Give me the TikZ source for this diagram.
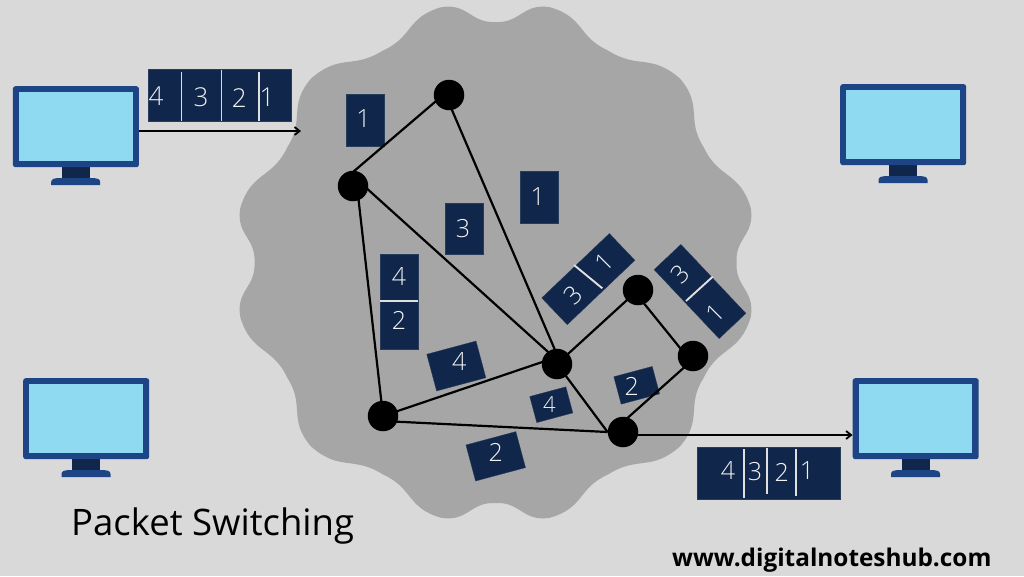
\documentclass[tikz,border=0pt]{standalone}
\usepackage{fontspec}
\setmainfont{Open Sans}
\newfontfamily\lightfont{Open Sans Light}
\usetikzlibrary{arrows.meta}
\definecolor{bgc}{HTML}{D9D9D9}
\definecolor{cloudc}{HTML}{A6A6A6}
\definecolor{navy}{HTML}{10264A}
\definecolor{frameb}{HTML}{1D4586}
\definecolor{screenb}{HTML}{8FDAF1}
\tikzset{
  pkt/.style={fill=navy,draw=navy!90!white,line width=0.3pt,inner sep=0,minimum width=#1},
  digit/.style={text=white!95!black,font=\lightfont\fontsize{25}{25}\selectfont,inner sep=0},
  sepline/.style={draw=white!88!black,line width=1.9pt},
  router/.style={circle,fill=black,minimum size=30.5pt,inner sep=0},
  link/.style={draw=black,line width=2.2pt},
  flow/.style={draw=black,line width=2.2pt,-{Straight Barb[length=5pt,width=8pt,line width=1.8pt]}}
}
\newcommand{\lobe}[4]{.. controls ({#1+0.5*(#3-#1)-90}:#2) and ({#3-0.5*(#3-#1)-90}:#4) .. ({#3-90}:#4)}
\newcommand{\monitor}[3]{%
  \begin{scope}[shift={(#1,#2)}]
    \fill[navy] (49,80) rectangle (77,93);
    \fill[frameb] (38.5,99) -- (38.5,96) to[out=90,in=180] (45,92) -- (81,92) to[out=0,in=90] (87.5,96) -- (87.5,99) -- cycle;
    \node[draw=none,fill=frameb,rounded corners=2.5pt,minimum width=126pt,minimum height=81pt,inner sep=0,anchor=north west] (#3) at (0,0) {};
    \fill[screenb] (6.3,5.5) rectangle (119.8,74.5);
  \end{scope}}
\begin{document}
\begin{tikzpicture}[x=1pt,y=-1pt]
\useasboundingbox (0,0) rectangle (1024,576);
\fill[bgc] (0,0) rectangle (1024,576);
\begin{scope}[shift={(495.5,262.5)}]
\fill[cloudc] ({0-90}:240.5)
 \lobe{0}{240.5}{12}{261} \lobe{12}{261}{28}{240} \lobe{28}{240}{45}{260.5} \lobe{45}{260.5}{61}{238} \lobe{61}{238}{78}{261} \lobe{78}{261}{90}{241}
 \lobe{90}{241}{102}{261} \lobe{102}{261}{119}{238} \lobe{119}{238}{135}{260.5} \lobe{135}{260.5}{152}{240} \lobe{152}{240}{168}{261} \lobe{168}{261}{180}{240.5}
 \lobe{180}{240.5}{192}{261} \lobe{192}{261}{208}{240} \lobe{208}{240}{225}{260.5} \lobe{225}{260.5}{241}{238} \lobe{241}{238}{258}{261} \lobe{258}{261}{270}{241}
 \lobe{270}{241}{282}{261} \lobe{282}{261}{299}{238} \lobe{299}{238}{315}{260.5} \lobe{315}{260.5}{332}{240} \lobe{332}{240}{348}{261} \lobe{348}{261}{360}{240.5} -- cycle;
\end{scope}

\monitor{12.7}{86}{ma}
\monitor{840}{84}{mb}
\monitor{23}{378}{mc}
\monitor{852.5}{378}{md}

% routers
\node[router] (n1) at (449,95) {};
\node[router] (n2) at (353,186) {};
\node[router] (n3) at (638,290) {};
\node[router] (n4) at (693,356) {};
\node[router] (n5) at (557,364) {};
\node[router] (n6) at (383,416) {};
\node[router] (n7) at (623,432) {};

% packets
\node[pkt=143pt,minimum height=51.5pt] (sa) at (220,95.2) {};
\node[pkt=38pt,minimum height=51.5pt] (pa) at (365.3,120) {};
\node[pkt=38pt,minimum height=51.5pt] (pb) at (464,228.5) {};
\node[pkt=38pt,minimum height=51.5pt] (pc) at (539,197) {};
\node[pkt=38pt,minimum height=95pt] (pd) at (399.3,301.5) {};
\node[pkt=51pt,minimum height=38pt,rotate=15] (pe) at (456.3,366) {};
\node[pkt=37.4pt,minimum height=27pt,rotate=15] (pf) at (551.3,404.7) {};
\node[pkt=39.8pt,minimum height=28.4pt,rotate=15] (pg) at (636.7,385.3) {};
\node[pkt=51.7pt,minimum height=37.3pt,rotate=15] (ph) at (495.7,456.3) {};
\node[pkt=93.4pt,minimum height=37pt,rotate=43.6] (pi) at (588.3,279.1) {};
\node[pkt=94.8pt,minimum height=36.8pt,rotate=-46.7] (pj) at (700,291.5) {};
\node[pkt=143pt,minimum height=51.5pt] (sb) at (768.2,473) {};

% links
\draw[link] ([yshift=5pt]n1.center) -- ([yshift=14pt]n2.center);
\draw[link] ([xshift=-3.5pt]n1.center) -- ([xshift=4pt]n5.center);
\draw[link] ([yshift=10pt]n2.center) -- ([yshift=4pt]n5.center);
\draw[link] ([xshift=4pt]n2.center) -- (n6.center);
\draw[link] (n6.center) -- ([yshift=7pt]n5.center);
\draw[link] ([yshift=-5pt]n6.center) -- (n7.west);
\draw[link] (n5.center) -- (n7.west);
\draw[link] (n5.center) -- (n3.center);
\draw[link] ([yshift=-6pt]n3.center) -- ([yshift=-8pt]n4.center);
\draw[link] ([yshift=-3.5pt]n4.center) -- ([yshift=10pt]n7.center);
\coordinate (fa) at (ma.north east |- 0,131);
\coordinate (fb) at (301,131);
\draw[flow] (fa) -- (fb);
\coordinate (fc) at (n7.center |- 0,435);
\coordinate (fd) at (md.west |- 0,435);
\draw[flow] (fc) -- (fd);

% dividers
\draw[sepline] (181.5,72) -- (181.5,121);
\draw[bgc,line width=1.8pt] (221.5,69.5) -- (221.5,121);
\draw[sepline] (259,72) -- (259,121);
\draw[sepline] (743.7,449) -- (743.7,498);
\draw[sepline] (767,447.5) -- (767,494);
\draw[sepline] (796.3,449) -- (796.3,496);
\draw[sepline] (380.3,300.7) -- (418.3,300.7);
\draw[sepline] (574,265) -- (602.3,288.3);
\draw[sepline] (686,301) -- (712.7,276.7);

% digits
\node[digit,font=\lightfont\fontsize{26}{26}\selectfont] (d1) at (156,96.5) {4};
\node[digit,font=\lightfont\fontsize{26}{26}\selectfont] (d2) at (201,97.3) {3};
\node[digit,font=\lightfont\fontsize{26}{26}\selectfont] (d3) at (239.3,98.3) {2};
\node[digit,font=\lightfont\fontsize{26}{26}\selectfont] (d4) at (267,97) {1};
\node[digit] (d5) at (363.5,119) {1};
\node[digit] (d6) at (463,229) {3};
\node[digit] (d7) at (537.7,197) {1};
\node[digit] (d8) at (399,277) {4};
\node[digit] (d9) at (399,320.5) {2};
\node[digit] (d10) at (459.3,362) {4};
\node[digit,font=\lightfont\fontsize{22}{22}\selectfont] (d11) at (549.5,404.5) {4};
\node[digit] (d12) at (631.7,386.7) {2};
\node[digit] (d13) at (495.7,452) {2};
\node[digit,rotate=45] (d14) at (573.3,295) {3};
\node[digit,rotate=45] (d15) at (604.3,262.3) {1};
\node[digit,rotate=45] (d16) at (680.7,274) {3};
\node[digit,rotate=45] (d17) at (715.7,313.3) {1};
\node[digit] (d18) at (728,470.7) {4};
\node[digit] (d19) at (755,472) {3};
\node[digit] (d20) at (781.7,472) {2};
\node[digit] (d21) at (807,471) {1};

\node[anchor=base west,inner sep=0,font=\fontsize{36.5}{36.5}\selectfont] (title) at (71,535.5) {Packet Switching};
\node[anchor=base west,inner sep=0,font=\bfseries\fontsize{24.35}{24.35}\selectfont] (url) at (672,566.5) {www.digitalnoteshub.com};
\end{tikzpicture}
\end{document}
